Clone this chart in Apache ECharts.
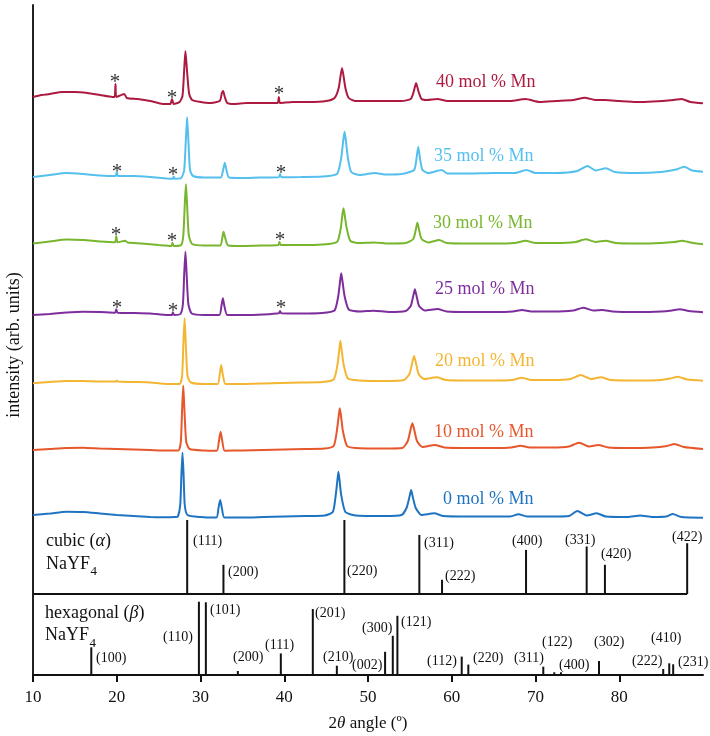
<!DOCTYPE html>
<html>
<head>
<meta charset="utf-8">
<script src="https://cdn.jsdelivr.net/npm/echarts@6/dist/echarts.min.js"></script>
<style>
html,body{margin:0;padding:0;background:#fff;}
#chart{width:710px;height:736px;}
</style>
</head>
<body>
<div id="chart"></div>
<script>
// ---------------- DATA ----------------
const xTickLabels = [10, 20, 30, 40, 50, 60, 70, 80];
const sampleNames = ['40 mol % Mn', '35 mol % Mn', '30 mol % Mn', '25 mol % Mn', '20 mol % Mn', '10 mol % Mn', '0 mol % Mn'];

// stacked XRD traces: [2theta, intensity (arb. units, offset for stacking)]
const mn40 = [[10,423],[11,425],[12,426],[13.5,428],[15,428],[16.5,427],[18,425],[19.5,423],[19.75,423],[19.85,436],[19.95,423],[20.9,426],[21.2,422],[22.5,421],[24,419],[25.5,416],[26.4,416],[26.6,421],[26.8,416],[27.5,418],[27.85,424],[28.05,450],[28.2,469],[28.4,448],[28.65,426],[29,420],[30,418],[31,417],[32.3,419],[32.55,427],[32.7,429],[32.9,423],[33.2,417],[34,416],[35.5,417],[37,417],[39.2,417],[39.35,423],[39.5,417],[41,418],[43,418],[45,419],[46,422],[46.5,432],[46.9,452],[47.3,432],[47.7,422],[48.5,419],[50,419],[52,419],[54,419],[55.1,421],[55.45,428],[55.74,437],[56.05,428],[56.4,421],[57,420],[58.3,421],[59.5,419],[61,419],[63,419],[65,419],[67,419],[68.8,421],[70.5,418],[72.5,419],[74.5,420],[75.9,422.3],[77.2,420],[78.3,420],[80,419],[82,418],[84,418.5],[86.5,420],[87.45,421],[88.5,418],[90,416.7]];
const mn35 = [[10,343],[12,345],[14,347],[16,346],[18,344.5],[19.85,344],[20,348],[20.15,344],[22,344],[24,343],[26,341.5],[26.7,341.3],[26.8,343.5],[26.9,341.3],[27.7,342],[28.05,350],[28.25,380],[28.4,402.7],[28.55,380],[28.75,350],[29.1,344],[30.5,342.5],[32.4,342.5],[32.7,350],[32.9,357.3],[33.1,350],[33.4,342.5],[35,342],[37,342.5],[39.35,342.7],[39.5,346],[39.65,342.7],[42,343],[44.5,343.5],[46.3,346],[46.8,362],[47.05,380],[47.2,388.3],[47.35,380],[47.6,362],[48,348],[49,345],[50.85,347],[52,345.5],[54,346],[55.5,350],[55.8,362],[56,373.3],[56.2,362],[56.5,350],[57.2,347],[58.8,350],[59.5,346.5],[62,346.5],[65,347],[67.5,347],[68.95,350],[70,347],[72.5,347],[75,349],[76.2,354],[77.2,349.5],[78.4,351.7],[79.5,348],[82,347],[85,348],[86.8,350.5],[87.75,353.3],[88.7,349.5],[90,348.3]];
const mn30 = [[10,276.5],[12,278.5],[14,280.5],[16,280],[18,278.5],[19.8,277.7],[19.94,284],[20.1,277.7],[21,279.3],[21.3,277.5],[23,276.5],[25,275],[26.55,274],[26.65,277.3],[26.8,274],[27.7,275],[27.95,285],[28.12,315],[28.26,335.7],[28.4,315],[28.6,285],[29,276],[30.5,274.5],[32.35,274.5],[32.6,282],[32.75,288.3],[32.95,282],[33.3,274.5],[35,274],[37.5,274.5],[39.3,275],[39.43,278.3],[39.55,275],[42,275],[44.5,275.5],[46.3,278],[46.75,292],[46.95,306],[47.07,311.7],[47.2,306],[47.45,292],[47.9,279],[49,277],[50.7,277.5],[52.5,276.5],[54.5,277],[55.4,281],[55.7,290],[55.9,297.3],[56.1,290],[56.4,281],[57.2,277.5],[58.5,280],[59.4,277],[62,276.5],[65,276.5],[67.5,277],[68.83,279.3],[70,277],[72.5,277],[74.8,278],[76,280.7],[77.2,278],[78.4,279.3],[79.6,277],[82,276.5],[85,277],[86.6,278],[87.5,279.3],[88.5,277.5],[90,275.7]];
const mn25 = [[10,205],[12,206],[14,207.5],[16,208.3],[18,208],[19.8,207.3],[19.94,210.7],[20.1,207.3],[22,207],[24,206.5],[26,205],[26.6,205],[26.7,207.7],[26.85,205],[27.6,206],[27.9,216],[28.05,245],[28.2,268.3],[28.35,245],[28.55,216],[28.95,206.5],[30.5,205],[32.25,205],[32.5,214],[32.67,221.7],[32.85,214],[33.2,205],[35,205],[37.5,205.5],[39.35,206.7],[39.5,209],[39.65,206.7],[42,206.5],[44.5,207],[46,209.5],[46.45,224],[46.67,239],[46.8,246.7],[46.95,239],[47.2,224],[47.7,210.5],[49,208.5],[50.7,209.3],[52.5,208],[54.5,209],[55.1,214],[55.4,224],[55.6,230.7],[55.8,224],[56.1,214],[56.8,209.5],[58.3,211],[59.4,208.5],[62,208],[65,208],[67.3,208.5],[68.4,210],[69.5,208.5],[72,208.5],[74.5,209.5],[75.7,212.3],[76.9,209.5],[78,210],[79.2,208.5],[82,208],[85,208.5],[86.3,209.5],[87.2,210.7],[88.3,209],[90,207.7]];
const mn20 = [[10,136.7],[12,138],[14,139],[16,139],[18,138.5],[19.9,138.5],[20,139.5],[20.1,138.5],[22,138],[24,137.5],[26,136],[27.5,136],[27.8,144],[27.95,175],[28.1,201.7],[28.25,175],[28.45,144],[28.85,137.5],[30.5,136],[32.05,136],[32.3,146],[32.47,155],[32.65,146],[33,136],[35,136],[37.5,136.5],[39.5,137],[42,137.5],[44.5,138],[45.9,140.5],[46.35,155],[46.57,170],[46.7,179.3],[46.85,170],[47.1,155],[47.6,141.5],[49,139.5],[52,139],[54.3,140],[54.95,146],[55.3,158],[55.5,164],[55.7,158],[56.05,146],[56.7,141],[58.2,142.7],[59.3,140],[62,139.5],[65,139.5],[67.2,140],[68.35,142.3],[69.5,140],[72,140],[74.2,141],[75.4,145],[76.6,141],[77.8,142.7],[79,140],[82,139.5],[85,140],[86.1,141.5],[87,143.3],[88.1,140.5],[90,139.3]];
const mn10 = [[10,70],[12,71],[14,72],[16,72.3],[18,71.5],[20,71],[22,70.5],[24,70],[26,69.5],[27.35,69.5],[27.65,78],[27.8,110],[27.94,134.3],[28.08,110],[28.3,78],[28.7,71],[30.5,69.5],[31.95,69.3],[32.2,79],[32.4,88.3],[32.6,79],[32.9,69.3],[35,69.5],[37.5,70],[40,70.5],[42.5,71],[44.8,71.5],[45.9,74],[46.28,89],[46.5,104],[46.63,111.7],[46.78,104],[47,89],[47.5,74],[48.5,72],[52,71.5],[54.1,72],[54.75,79],[55.1,91],[55.3,96.7],[55.5,91],[55.85,79],[56.5,73],[58,75],[59.1,72.5],[62,72],[65,72],[67.1,72.5],[68.2,74.3],[69.3,72.5],[72,72.5],[74,73.5],[75.2,77.3],[76.4,73.5],[77.5,75],[78.7,72.5],[81,72],[84,72.5],[85.7,74],[86.6,76],[87.7,73],[90,71]];
const mn0 = [[10,5],[12,6.5],[14,8.3],[16,8],[18,6.5],[20,5],[22,4],[24,3],[25.5,2.7],[27,3],[27.3,3.5],[27.58,15],[27.72,45],[27.85,67.3],[27.98,45],[28.12,15],[28.45,5],[30,3],[31.9,2.5],[32.15,12],[32.35,20],[32.55,12],[32.85,2.5],[35,2.5],[37.5,3],[40,3.5],[42.5,4],[44.8,4.5],[45.8,8],[46.15,25],[46.35,40],[46.47,48.3],[46.6,40],[46.8,25],[47.3,8],[48.5,4.5],[52,4],[54,5],[54.6,12],[54.95,23],[55.15,30],[55.35,23],[55.7,12],[56.4,5],[57.9,6.7],[59,4],[62,3.5],[65,3.5],[67,3.5],[67.95,5.7],[69,3.5],[72,3.5],[74,4],[75,9],[76.1,4.5],[77.3,6.7],[78.4,3.5],[81,3],[82.5,4.5],[84,3],[85.6,3.5],[86.4,6],[87.4,3],[90,2.3]];
const traces = [mn40, mn35, mn30, mn25, mn20, mn10, mn0];

// cubic (alpha) NaYF4 reference
const cubicHKL = ['(111)', '(200)', '(220)', '(311)', '(222)', '(400)', '(331)', '(420)', '(422)'];
const cubicPos = [28.41, 32.74, 47.18, 56.13, 58.84, 68.87, 76.11, 78.29, 88.11];
const cubicInt = [100, 39.4, 100, 79.8, 19.2, 59.6, 64.2, 39.4, 68.6];

// hexagonal (beta) NaYF4 reference
const hexHKL = ['(100)', '(110)', '(101)', '(200)', '(111)', '(201)', '(210)', '(002)', '(300)', '(121)', '(112)', '(220)', '(311)', '(122)', '(400)', '(302)', '(222)', '(410)', '(231)'];
const hexPos = [16.96, 29.81, 30.64, 34.46, 39.59, 43.41, 46.28, 52.04, 52.96, 53.51, 61.19, 61.98, 70.93, 72.24, 73.04, 77.58, 85.25, 85.97, 86.44];
const hexInt = [34.6, 91.6, 90.9, 5, 27, 82.5, 11.6, 29, 49, 74, 23, 13, 10.4, 3.4, 3.4, 17.5, 7.5, 14.6, 13.4];

// ---------------- LAYOUT / STYLE ----------------
const FONT = '"Liberation Serif", "Times New Roman", serif';
const traceColors = ['#ad1a3f', '#55c0ee', '#77b62e', '#7d2e9c', '#f3b632', '#e6572b', '#1f74c2'];
const sampleLabelPos = [[436, 82], [434, 156], [433, 223], [435, 289], [435, 361], [434, 432], [443, 499]];
const starPos = [[115, 77], [172, 93], [279, 89], [117, 167], [173, 170], [281, 168], [116, 230], [172, 236], [280, 235], [117, 303], [173, 306], [281, 303]];
const cubicLabelPos = [[193, 541], [228, 572], [347, 571], [424, 543], [445, 576], [512, 541], [565, 540], [601, 554], [672, 537]];
const hexLabelPos = [[96, 658], [163, 637], [210, 610], [233, 657], [265, 645], [315, 613], [323, 657], [352, 665], [362, 628], [401, 622], [427, 661], [473, 658], [514, 658], [542, 642], [559, 665], [594, 642], [632, 661], [651, 638], [678, 662]];

const chart = echarts.init(document.getElementById('chart'), null, {renderer: 'canvas'});

const gridCommon = {left: 33, right: 7, containLabel: false};
const axisColor = '#222';

const series = [];
traces.forEach((d, i) => {
  series.push({
    type: 'line', xAxisIndex: 0, yAxisIndex: 0, data: d,
    showSymbol: false, symbol: 'none', smooth: 0.2,
    lineStyle: {color: traceColors[i], width: 2},
    z: 10 - i
  });
});
series.push({
  type: 'bar', xAxisIndex: 1, yAxisIndex: 1, barWidth: 2,
  data: cubicPos.map((p, i) => [p, cubicInt[i]]),
  itemStyle: {color: '#111'}
});
series.push({
  type: 'line', xAxisIndex: 1, yAxisIndex: 1, showSymbol: false, symbol: 'none',
  data: [[xTickLabels[0], 0], [cubicPos[cubicPos.length - 1], 0]],
  lineStyle: {color: '#111', width: 2}
});
series.push({
  type: 'bar', xAxisIndex: 2, yAxisIndex: 2, barWidth: 2,
  data: hexPos.map((p, i) => [p, hexInt[i]]),
  itemStyle: {color: '#111'}
});

function hiddenX(idx) {
  return {type: 'value', gridIndex: idx, min: 10, max: 90, show: false};
}
function leftY(idx, max) {
  return {
    type: 'value', gridIndex: idx, min: 0, max: max,
    axisLine: {show: true, onZero: false, lineStyle: {color: axisColor, width: 2}},
    axisTick: {show: false}, axisLabel: {show: false}, splitLine: {show: false}
  };
}

const graphics = [];
sampleNames.forEach((t, i) => {
  graphics.push({type: 'text', x: sampleLabelPos[i][0], y: sampleLabelPos[i][1],
    style: {text: t, fill: traceColors[i], font: '18px ' + FONT, textAlign: 'left', textVerticalAlign: 'middle'}});
});
starPos.forEach(p => {
  graphics.push({type: 'text', x: p[0], y: p[1] + 5,
    style: {text: '*', fill: '#333', font: '21px ' + FONT, textAlign: 'center', textVerticalAlign: 'middle'}});
});
cubicHKL.forEach((t, i) => {
  graphics.push({type: 'text', x: cubicLabelPos[i][0], y: cubicLabelPos[i][1],
    style: {text: t, fill: '#111', font: '14px ' + FONT, textAlign: 'left', textVerticalAlign: 'middle'}});
});
hexHKL.forEach((t, i) => {
  graphics.push({type: 'text', x: hexLabelPos[i][0], y: hexLabelPos[i][1],
    style: {text: t, fill: '#111', font: '14px ' + FONT, textAlign: 'left', textVerticalAlign: 'middle'}});
});
// panel titles
graphics.push({type: 'text', x: 46, y: 541, style: {text: 'cubic ({g|α})', fill: '#111', font: '18px ' + FONT, textAlign: 'left', textVerticalAlign: 'middle',
  rich: {g: {fontStyle: 'italic', fontFamily: FONT, fontSize: 18, fill: '#111'}}}});
graphics.push({type: 'text', x: 46, y: 564, style: {text: 'NaYF', fill: '#111', font: '18px ' + FONT, textAlign: 'left', textVerticalAlign: 'middle'}});
graphics.push({type: 'text', x: 90.5, y: 572, style: {text: '4', fill: '#111', font: '13px ' + FONT, textAlign: 'left', textVerticalAlign: 'middle'}});
graphics.push({type: 'text', x: 45, y: 613, style: {text: 'hexagonal ({g|β})', fill: '#111', font: '18px ' + FONT, textAlign: 'left', textVerticalAlign: 'middle',
  rich: {g: {fontStyle: 'italic', fontFamily: FONT, fontSize: 18, fill: '#111'}}}});
graphics.push({type: 'text', x: 45, y: 635, style: {text: 'NaYF', fill: '#111', font: '18px ' + FONT, textAlign: 'left', textVerticalAlign: 'middle'}});
graphics.push({type: 'text', x: 89.5, y: 644, style: {text: '4', fill: '#111', font: '13px ' + FONT, textAlign: 'left', textVerticalAlign: 'middle'}});
// y-axis title
graphics.push({type: 'text', x: 14, y: 345, rotation: Math.PI / 2,
  style: {text: 'intensity (arb. units)', fill: '#111', font: '18px ' + FONT, textAlign: 'center', textVerticalAlign: 'middle'}});

chart.setOption({
  animation: false,
  backgroundColor: '#fff',
  grid: [
    Object.assign({top: 5, height: 515}, gridCommon),
    Object.assign({top: 520, height: 74}, gridCommon),
    Object.assign({top: 595, height: 80}, gridCommon)
  ],
  xAxis: [
    hiddenX(0), hiddenX(1),
    {
      type: 'value', gridIndex: 2, min: 10, max: 90,
      axisLine: {show: true, onZero: false, lineStyle: {color: '#111', width: 2}},
      axisTick: {show: true, inside: false, length: 7, lineStyle: {color: '#111', width: 2}, customValues: xTickLabels},
      axisLabel: {show: true, margin: 14, color: '#111', fontFamily: FONT, fontSize: 17, customValues: xTickLabels},
      splitLine: {show: false},
      name: '2{i|θ} angle (º)', nameLocation: 'middle', nameGap: 40,
      nameTextStyle: {color: '#111', fontFamily: FONT, fontSize: 17,
        rich: {i: {fontStyle: 'italic', fontFamily: FONT, fontSize: 17, color: '#111'}}}
    }
  ],
  yAxis: [leftY(0, 515), leftY(1, 100), leftY(2, 100)],
  series: series,
  graphic: graphics
});
</script>
</body>
</html>
